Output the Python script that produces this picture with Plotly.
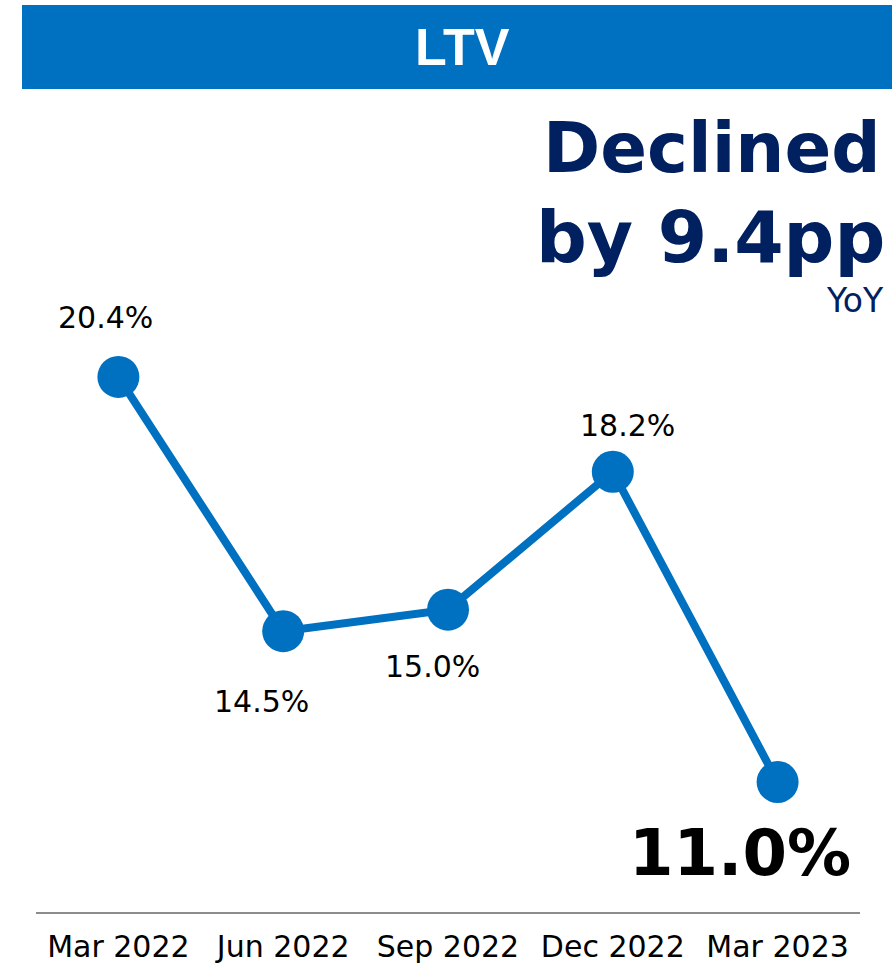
import plotly.graph_objects as go

# Data
categories = ["Mar 2022", "Jun 2022", "Sep 2022", "Dec 2022", "Mar 2023"]
ltv_values = [20.4, 14.5, 15.0, 18.2, 11.0]
title_text = "LTV"
headline_lines = ["Declined", "by 9.4pp"]
headline_sub = "YoY"

BLUE = "#0070C0"
NAVY = "#002060"
FONT = "DejaVu Sans"

# label offsets (px): (xshift, yshift) per point
label_shifts = [(-13, 59), (-22, -70), (-16, -57), (15, 46), (-38, -71)]

fig = go.Figure()
fig.add_trace(go.Scatter(
    x=categories, y=ltv_values, mode="lines+markers",
    line=dict(color=BLUE, width=8),
    marker=dict(color=BLUE, size=42),
    cliponaxis=False, hoverinfo="skip",
))

annotations = []
for i, (c, v) in enumerate(zip(categories, ltv_values)):
    last = i == len(categories) - 1
    annotations.append(dict(
        x=c, y=v, xref="x", yref="y", text=f"{v:.1f}%", showarrow=False,
        xshift=label_shifts[i][0], yshift=label_shifts[i][1],
        font=dict(family=FONT, size=64 if last else 30, color="black",
                  weight="bold" if last else "normal"),
        xanchor="center", yanchor="middle",
    ))

# Plot area: x 36..860, y 100..912 px
def px_x(px):
    return (px - 36) / 824.0

def px_y(py):
    return (912 - py) / 812.0

annotations += [
    dict(x=px_x(462), y=px_y(47), xref="paper", yref="paper", text=f"<b>{title_text}</b>",
         showarrow=False, xanchor="center", yanchor="middle",
         font=dict(family="Liberation Sans", size=52, color="white")),
    dict(x=px_x(883), y=px_y(148), xref="paper", yref="paper", text=f"<b>{headline_lines[0]}</b>",
         showarrow=False, xanchor="right", yanchor="middle",
         font=dict(family=FONT, size=69, color=NAVY)),
    dict(x=px_x(887), y=px_y(238), xref="paper", yref="paper", text=f"<b>{headline_lines[1]}</b>",
         showarrow=False, xanchor="right", yanchor="middle",
         font=dict(family=FONT, size=71, color=NAVY)),
    dict(x=px_x(886), y=px_y(301), xref="paper", yref="paper", text=headline_sub,
         showarrow=False, xanchor="right", yanchor="middle",
         font=dict(family=FONT, size=33, color=NAVY)),
]

fig.update_layout(
    width=892, height=966,
    margin=dict(l=36, r=32, t=100, b=54, autoexpand=False),
    paper_bgcolor="white", plot_bgcolor="white",
    showlegend=False,
    annotations=annotations,
    shapes=[dict(type="rect", xref="paper", yref="paper",
                 x0=px_x(22), x1=px_x(892), y0=px_y(89), y1=px_y(5),
                 fillcolor=BLUE, line=dict(width=0), layer="below")],
    xaxis=dict(range=[-0.5, len(categories) - 0.5], autorange=False, automargin=False,
               showline=True, linecolor="#8c8c8c", linewidth=2, showgrid=False,
               zeroline=False, ticks="", ticklabelstandoff=7,
               tickfont=dict(family=FONT, size=30, color="black"),
               fixedrange=True),
    yaxis=dict(range=[7.983, 26.827], visible=False, showgrid=False, zeroline=False,
               automargin=False, fixedrange=True),
)

fig.write_html("out.html", config={"displayModeBar": False},
               post_script="document.body.style.margin='0';document.body.style.overflow='hidden';")
